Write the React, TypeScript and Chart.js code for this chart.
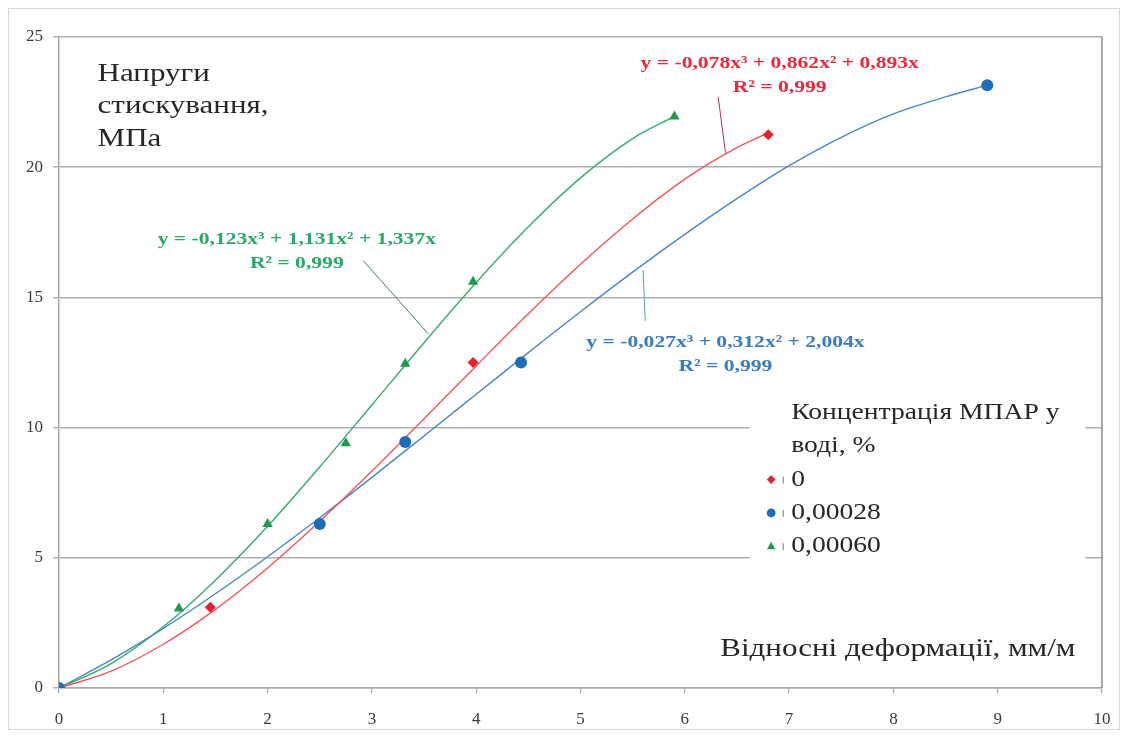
import React, { useEffect, useRef } from "react";
import { Chart, registerables } from "chart.js";

Chart.register(...registerables);

const FONT = '"Liberation Serif", "Times New Roman", serif';

// ---- data ----
const xTickValues = [0, 1, 2, 3, 4, 5, 6, 7, 8, 9, 10];
const yTickValues = [0, 5, 10, 15, 20, 25];

const seriesNames = ["0", "0,00028", "0,00060"];

const redX = [0, 1.45, 3.97, 6.8];
const redY = [0, 3.1, 12.5, 21.25];
const blueX = [0, 2.5, 3.32, 4.43, 8.9];
const blueY = [0, 6.3, 9.45, 12.5, 23.15];
const greenX = [0, 1.15, 2.0, 2.75, 3.32, 3.97, 5.9];
const greenY = [0, 3.05, 6.3, 9.4, 12.45, 15.6, 21.95];

// trend curves (polynomial fits shown on the chart), sampled values
const redTrendX = [0, 0.5, 1, 1.5, 2, 2.5, 3, 3.5, 4, 4.5, 5, 5.5, 6, 6.5, 6.8];
const redTrendY = [0, 0.65, 1.68, 3.02, 4.61, 6.4, 8.33, 10.34, 12.37, 14.37, 16.27, 18.01, 19.54, 20.75, 21.32];
const blueTrendX = [0, 0.5, 1, 1.5, 2, 2.5, 3, 3.5, 4, 4.5, 5, 5.5, 6, 6.5, 7, 7.5, 8, 8.5, 8.9];
const blueTrendY = [0, 1.08, 2.29, 3.62, 5.04, 6.54, 8.09, 9.68, 11.28, 12.88, 14.45, 15.97, 17.42, 18.79, 20.06, 21.15, 22.05, 22.7, 23.15];
const greenTrendX = [0, 0.5, 1, 1.5, 2, 2.5, 3, 3.5, 4, 4.5, 5, 5.5, 5.9];
const greenTrendY = [0, 0.94, 2.35, 4.14, 6.21, 8.49, 10.87, 13.26, 15.57, 17.71, 19.59, 21.1, 21.95];

const equationTexts = [
  "y = -0,078x³ + 0,862x² + 0,893x",
  "y = -0,027x³ + 0,312x² + 2,004x",
  "y = -0,123x³ + 1,131x² + 1,337x",
];
const r2Text = "R² = 0,999";

const yTitleLines = ["Напруги", "стискування,", "МПа"];
const xTitleText = "Відносні деформації, мм/м";
const legendTitleLines = ["Концентрація МПАР у", "воді, %"];

// ---- styles ----
const markerColors = ["#e8212b", "#1f6cb8", "#1e9a4e"];
const trendColors = ["#f2555a", "#4a86c4", "#38aa6c"];
const labelColors = ["#e8283c", "#3a7cc0", "#2aa86a"];
const leaderColors = ["#b03050", "#4aa3d6", "#4a7a62"];
const pointStyles = ["rectRot", "circle", "triangle"];
const pointRadii = [5.5, 6, 6];

// annotation placements (data coordinates)
const eqPlace = [
  { x: 6.91, y: 23.98 },
  { x: 6.39, y: 13.28 },
  { x: 2.28, y: 17.22 },
];
const leaders = [
  { x1: 6.32, y1: 22.7, x2: 6.39, y2: 20.55 },
  { x1: 5.6, y1: 16.05, x2: 5.62, y2: 14.1 },
  { x1: 2.92, y1: 16.4, x2: 3.54, y2: 13.6 },
];
const yTitlePlace = { x: 0.37, y: 23.57 };
const xTitlePlace = { x: 6.34, y: 1.5 };
const legendBox = { x1: 6.62, y1: 11.5, x2: 9.84, y2: 3.95 };
const legendTitlePlace = { x: 7.02, y: 10.56 };

function toPts(xs: number[], ys: number[]) {
  return xs.map((x, i) => ({ x, y: ys[i] }));
}

function stretchText(ctx: CanvasRenderingContext2D, text: string, x: number, y: number, sx: number) {
  ctx.save();
  ctx.translate(x, y);
  ctx.scale(sx, 1);
  ctx.fillText(text, 0, 0);
  ctx.restore();
}

function drawMarker(ctx: CanvasRenderingContext2D, style: string, x: number, y: number, r: number, color: string) {
  ctx.save();
  ctx.fillStyle = color;
  ctx.beginPath();
  if (style === "circle") {
    ctx.arc(x, y, r, 0, Math.PI * 2);
  } else if (style === "rectRot") {
    ctx.moveTo(x, y - r);
    ctx.lineTo(x + r, y);
    ctx.lineTo(x, y + r);
    ctx.lineTo(x - r, y);
    ctx.closePath();
  } else {
    ctx.moveTo(x, y - r);
    ctx.lineTo(x + r * 0.95, y + r * 0.7);
    ctx.lineTo(x - r * 0.95, y + r * 0.7);
    ctx.closePath();
  }
  ctx.fill();
  ctx.restore();
}

const annotations = {
  id: "annotations",
  afterDraw(chart: any) {
    const { ctx, chartArea, scales } = chart;
    const sx = scales.x;
    const sy = scales.y;
    const px = (v: number) => sx.getPixelForValue(v);
    const py = (v: number) => sy.getPixelForValue(v);
    ctx.save();

    // right border of plot area
    ctx.strokeStyle = "#8f8f8f";
    ctx.lineWidth = 1.5;
    ctx.beginPath();
    ctx.moveTo(chartArea.right, chartArea.top);
    ctx.lineTo(chartArea.right, chartArea.bottom);
    ctx.stroke();

    // y title
    ctx.fillStyle = "#262626";
    ctx.font = `25px ${FONT}`;
    ctx.textAlign = "left";
    ctx.textBaseline = "middle";
    yTitleLines.forEach((t, i) => stretchText(ctx, t, px(yTitlePlace.x), py(yTitlePlace.y) + i * 32.5, 1.24));

    // x title
    stretchText(ctx, xTitleText, px(xTitlePlace.x), py(xTitlePlace.y), 1.24);

    // leader lines
    leaders.forEach((l, i) => {
      ctx.strokeStyle = leaderColors[i];
      ctx.lineWidth = 1;
      ctx.beginPath();
      ctx.moveTo(px(l.x1), py(l.y1));
      ctx.lineTo(px(l.x2), py(l.y2));
      ctx.stroke();
    });

    // equations
    ctx.font = `bold 17px ${FONT}`;
    ctx.textAlign = "center";
    equationTexts.forEach((t, i) => {
      ctx.fillStyle = labelColors[i];
      const cx = px(eqPlace[i].x);
      const cy = py(eqPlace[i].y);
      stretchText(ctx, t, cx, cy, 1.27);
      stretchText(ctx, r2Text, cx, cy + 24.5, 1.27);
    });

    // legend
    const bx1 = px(legendBox.x1);
    const by1 = py(legendBox.y1);
    const bx2 = px(legendBox.x2);
    const by2 = py(legendBox.y2);
    ctx.fillStyle = "#ffffff";
    ctx.fillRect(bx1, by1, bx2 - bx1, by2 - by1);
    ctx.fillStyle = "#262626";
    ctx.font = `23px ${FONT}`;
    ctx.textAlign = "left";
    const lx = px(legendTitlePlace.x);
    const ly = py(legendTitlePlace.y);
    const step = 33.3;
    legendTitleLines.forEach((t, i) => stretchText(ctx, t, lx, ly + i * step, 1.2));
    seriesNames.forEach((name, i) => {
      const y = ly + (i + 2) * step;
      drawMarker(ctx, pointStyles[i], lx - 20, y, 4.4, markerColors[i]);
      ctx.strokeStyle = "#8a7060";
      ctx.lineWidth = 1;
      ctx.beginPath();
      ctx.moveTo(lx - 8, y - 3);
      ctx.lineTo(lx - 8, y + 4);
      ctx.stroke();
      ctx.fillStyle = "#262626";
      stretchText(ctx, name, lx, y, 1.2);
    });

    ctx.restore();
  },
};

export default function App() {
  const ref = useRef<HTMLCanvasElement | null>(null);

  useEffect(() => {
    if (!ref.current) return;
    const pointSets = [
      { xs: blueX, ys: blueY, i: 1 },
      { xs: redX, ys: redY, i: 0 },
      { xs: greenX, ys: greenY, i: 2 },
    ];
    const trendSets = [
      { xs: redTrendX, ys: redTrendY, i: 0 },
      { xs: blueTrendX, ys: blueTrendY, i: 1 },
      { xs: greenTrendX, ys: greenTrendY, i: 2 },
    ];
    const datasets: any[] = [
      ...pointSets.map((s) => ({
        label: seriesNames[s.i],
        data: toPts(s.xs, s.ys),
        showLine: false,
        pointStyle: pointStyles[s.i],
        pointRadius: pointRadii[s.i],
        pointBackgroundColor: markerColors[s.i],
        pointBorderColor: markerColors[s.i],
        pointBorderWidth: 0,
      })),
      ...trendSets.map((s) => ({
        label: "trend " + seriesNames[s.i],
        data: toPts(s.xs, s.ys),
        showLine: true,
        pointRadius: 0,
        borderColor: trendColors[s.i],
        borderWidth: 1.4,
        cubicInterpolationMode: "monotone",
        fill: false,
      })),
    ];

    const chart = new Chart(ref.current, {
      type: "scatter",
      data: { datasets },
      options: {
        animation: false,
        responsive: true,
        maintainAspectRatio: false,
        layout: { padding: { left: 0, right: 17, top: 28, bottom: 0 } },
        plugins: { legend: { display: false }, tooltip: { enabled: false } },
        scales: {
          x: {
            type: "linear",
            min: 0,
            max: 10,
            afterBuildTicks: (scale: any) => {
              scale.ticks = xTickValues.map((v) => ({ value: v }));
            },
            afterFit: (scale: any) => {
              scale.height = 41;
              scale.paddingLeft = 0;
              scale.paddingRight = 0;
            },
            ticks: {
              color: "#3a3a3a",
              font: { family: FONT, size: 17 },
              padding: 16,
              maxRotation: 0,
            },
            grid: {
              drawOnChartArea: false,
              drawTicks: true,
              tickLength: 5,
              color: "#a8a8a8",
              lineWidth: 1.2,
            },
            border: { color: "#a8a8a8", width: 1.5 },
          },
          y: {
            type: "linear",
            min: 0,
            max: 25,
            afterBuildTicks: (scale: any) => {
              scale.ticks = yTickValues.map((v) => ({ value: v }));
            },
            afterFit: (scale: any) => {
              scale.width = 50;
              scale.paddingTop = 0;
              scale.paddingBottom = 0;
            },
            ticks: {
              color: "#3a3a3a",
              font: { family: FONT, size: 17 },
              padding: 10,
            },
            grid: {
              drawOnChartArea: true,
              drawTicks: true,
              tickLength: 6,
              color: "#b0b0b0",
              lineWidth: 1.5,
            },
            border: { color: "#a8a8a8", width: 1.5 },
          },
        },
      },
      plugins: [annotations],
    } as any);
    return () => chart.destroy();
  }, []);

  return (
    <div
      style={{
        position: "relative",
        width: 1112,
        height: 722,
        border: "1px solid #d6d6d6",
        boxSizing: "border-box",
        background: "#ffffff",
      }}
    >
      <canvas ref={ref} />
    </div>
  );
}
